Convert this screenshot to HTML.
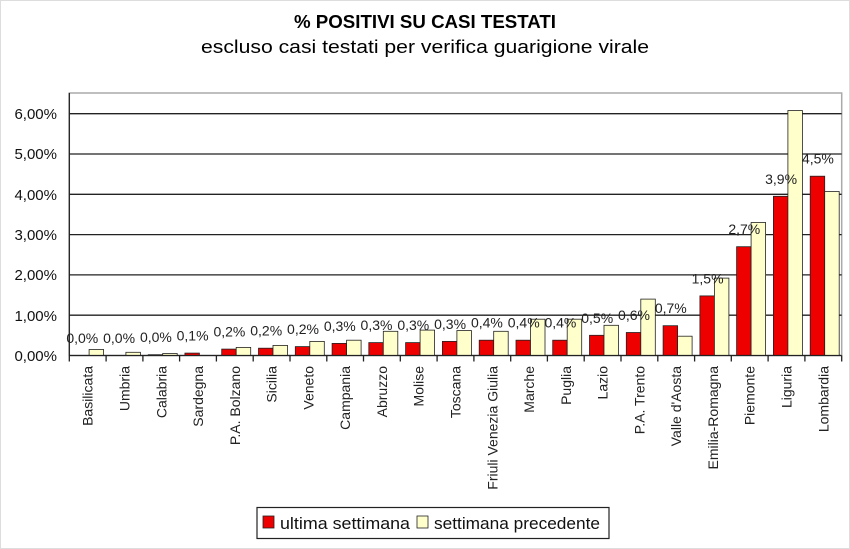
<!DOCTYPE html>
<html><head><meta charset="utf-8"><style>body{margin:0;background:#fff}svg{display:block}</style></head><body>
<svg width="850" height="549" xmlns="http://www.w3.org/2000/svg" font-family="Liberation Sans, sans-serif">
<rect x="0.5" y="0.5" width="849" height="548" fill="#fff" stroke="#ddd"/>
<text x="425" y="28" text-anchor="middle" font-size="18" font-weight="bold" textLength="262" lengthAdjust="spacingAndGlyphs">% POSITIVI SU CASI TESTATI</text>
<text x="425" y="53" text-anchor="middle" font-size="18" textLength="448" lengthAdjust="spacingAndGlyphs">escluso casi testati per verifica guarigione virale</text>
<rect x="69.3" y="93" width="772.4" height="262.5" fill="none" stroke="#aaa" stroke-width="1.5"/>
<g stroke="#222" stroke-width="1.3">
<line x1="69.3" y1="113.7" x2="841.7" y2="113.7"/><line x1="69.3" y1="154" x2="841.7" y2="154"/><line x1="69.3" y1="194.3" x2="841.7" y2="194.3"/><line x1="69.3" y1="234.6" x2="841.7" y2="234.6"/><line x1="69.3" y1="274.9" x2="841.7" y2="274.9"/><line x1="69.3" y1="315.2" x2="841.7" y2="315.2"/>
<line x1="69.3" y1="93" x2="69.3" y2="355.5"/>
</g>
<g font-size="15" text-anchor="end" fill="#111">
<text x="57" y="119">6,00%</text><text x="57" y="159">5,00%</text><text x="57" y="200">4,00%</text><text x="57" y="240">3,00%</text><text x="57" y="280">2,00%</text><text x="57" y="321">1,00%</text><text x="57" y="361">0,00%</text>
</g>
<g stroke="#222" stroke-width="0.8">
<rect x="89.1" y="349.5" width="14.5" height="6" fill="#ffffcc"/>
<rect x="125.9" y="352.3" width="14.5" height="3.2" fill="#ffffcc"/>
<rect x="148.2" y="354.7" width="14.5" height="0.8" fill="#e00"/><rect x="162.7" y="353.5" width="14.5" height="2" fill="#ffffcc"/>
<rect x="184.9" y="353.1" width="14.5" height="2.4" fill="#e00"/>
<rect x="221.7" y="349.1" width="14.5" height="6.4" fill="#e00"/><rect x="236.2" y="347.4" width="14.5" height="8.1" fill="#ffffcc"/>
<rect x="258.5" y="348.2" width="14.5" height="7.3" fill="#e00"/><rect x="273" y="345.4" width="14.5" height="10.1" fill="#ffffcc"/>
<rect x="295.3" y="346.6" width="14.5" height="8.9" fill="#e00"/><rect x="309.8" y="341.4" width="14.5" height="14.1" fill="#ffffcc"/>
<rect x="332.1" y="343.4" width="14.5" height="12.1" fill="#e00"/><rect x="346.6" y="340.2" width="14.5" height="15.3" fill="#ffffcc"/>
<rect x="368.8" y="342.6" width="14.5" height="12.9" fill="#e00"/><rect x="383.3" y="331.3" width="14.5" height="24.2" fill="#ffffcc"/>
<rect x="405.6" y="342.6" width="14.5" height="12.9" fill="#e00"/><rect x="420.1" y="330.1" width="14.5" height="25.4" fill="#ffffcc"/>
<rect x="442.4" y="341.4" width="14.5" height="14.1" fill="#e00"/><rect x="456.9" y="330.5" width="14.5" height="25" fill="#ffffcc"/>
<rect x="479.2" y="340.2" width="14.5" height="15.3" fill="#e00"/><rect x="493.7" y="331.3" width="14.5" height="24.2" fill="#ffffcc"/>
<rect x="516" y="340.2" width="14.5" height="15.3" fill="#e00"/><rect x="530.5" y="319.2" width="14.5" height="36.3" fill="#ffffcc"/>
<rect x="552.7" y="340.2" width="14.5" height="15.3" fill="#e00"/><rect x="567.2" y="319.2" width="14.5" height="36.3" fill="#ffffcc"/>
<rect x="589.5" y="335.3" width="14.5" height="20.2" fill="#e00"/><rect x="604" y="325.3" width="14.5" height="30.2" fill="#ffffcc"/>
<rect x="626.3" y="332.5" width="14.5" height="23" fill="#e00"/><rect x="640.8" y="299.1" width="14.5" height="56.4" fill="#ffffcc"/>
<rect x="663.1" y="325.7" width="14.5" height="29.8" fill="#e00"/><rect x="677.6" y="336.2" width="14.5" height="19.3" fill="#ffffcc"/>
<rect x="699.9" y="295.9" width="14.5" height="59.6" fill="#e00"/><rect x="714.4" y="278.1" width="14.5" height="77.4" fill="#ffffcc"/>
<rect x="736.6" y="246.7" width="14.5" height="108.8" fill="#e00"/><rect x="751.1" y="222.5" width="14.5" height="133" fill="#ffffcc"/>
<rect x="773.4" y="196.3" width="14.5" height="159.2" fill="#e00"/><rect x="787.9" y="110.5" width="14.5" height="245" fill="#ffffcc"/>
<rect x="810.2" y="176.2" width="14.5" height="179.3" fill="#e00"/><rect x="824.7" y="191.5" width="14.5" height="164" fill="#ffffcc"/>
</g>
<g stroke="#222" stroke-width="1.3">
<line x1="69.3" y1="355.5" x2="841.7" y2="355.5"/>
<path d="M69.3 355.5v6M106.1 355.5v6M142.9 355.5v6M179.6 355.5v6M216.4 355.5v6M253.2 355.5v6M290 355.5v6M326.8 355.5v6M363.5 355.5v6M400.3 355.5v6M437.1 355.5v6M473.9 355.5v6M510.7 355.5v6M547.4 355.5v6M584.2 355.5v6M621 355.5v6M657.8 355.5v6M694.6 355.5v6M731.3 355.5v6M768.1 355.5v6M804.9 355.5v6M841.7 355.5v6"/>
</g>
<g font-size="14" text-anchor="middle" fill="#222">
<text x="82.3" y="343">0,0%</text><text x="119.1" y="343">0,0%</text><text x="155.9" y="342">0,0%</text><text x="192.6" y="340.6">0,1%</text>
<text x="229.4" y="336.6">0,2%</text><text x="266.2" y="335.7">0,2%</text><text x="303" y="334.1">0,2%</text><text x="339.8" y="330.9">0,3%</text>
<text x="376.5" y="330.1">0,3%</text><text x="413.3" y="330.1">0,3%</text><text x="450.1" y="328.9">0,3%</text><text x="486.9" y="327.7">0,4%</text>
<text x="523.7" y="327.7">0,4%</text><text x="560.4" y="327.7">0,4%</text><text x="597.2" y="322.8">0,5%</text><text x="634" y="320">0,6%</text>
<text x="670.8" y="313.2">0,7%</text><text x="707.6" y="283.4">1,5%</text><text x="744.3" y="234.2">2,7%</text><text x="781.1" y="183.8">3,9%</text><text x="817.9" y="163.7">4,5%</text>
</g>
<g font-size="14" text-anchor="end" fill="#222">
<text transform="translate(92.7,366) rotate(-90)">Basilicata</text>
<text transform="translate(129.5,366) rotate(-90)">Umbria</text>
<text transform="translate(166.3,366) rotate(-90)">Calabria</text>
<text transform="translate(203,366) rotate(-90)">Sardegna</text>
<text transform="translate(239.8,366) rotate(-90)">P.A. Bolzano</text>
<text transform="translate(276.6,366) rotate(-90)">Sicilia</text>
<text transform="translate(313.4,366) rotate(-90)">Veneto</text>
<text transform="translate(350.2,366) rotate(-90)">Campania</text>
<text transform="translate(386.9,366) rotate(-90)">Abruzzo</text>
<text transform="translate(423.7,366) rotate(-90)">Molise</text>
<text transform="translate(460.5,366) rotate(-90)">Toscana</text>
<text transform="translate(497.3,366) rotate(-90)">Friuli Venezia Giulia</text>
<text transform="translate(534.1,366) rotate(-90)">Marche</text>
<text transform="translate(570.8,366) rotate(-90)">Puglia</text>
<text transform="translate(607.6,366) rotate(-90)">Lazio</text>
<text transform="translate(644.4,366) rotate(-90)">P.A. Trento</text>
<text transform="translate(681.2,366) rotate(-90)">Valle d'Aosta</text>
<text transform="translate(718,366) rotate(-90)">Emilia-Romagna</text>
<text transform="translate(754.7,366) rotate(-90)">Piemonte</text>
<text transform="translate(791.5,366) rotate(-90)">Liguria</text>
<text transform="translate(828.3,366) rotate(-90)">Lombardia</text>
</g>
<rect x="257" y="507.5" width="352" height="31" fill="#fff" stroke="#222" stroke-width="1.2"/>
<rect x="263" y="516" width="11" height="12" fill="#e00" stroke="#222" stroke-width="0.8"/>
<text x="280" y="529" font-size="17" fill="#111" textLength="130" lengthAdjust="spacingAndGlyphs">ultima settimana</text>
<rect x="417" y="516" width="11" height="12" fill="#ffffcc" stroke="#222" stroke-width="0.8"/>
<text x="434" y="529" font-size="17" fill="#111" textLength="166" lengthAdjust="spacingAndGlyphs">settimana precedente</text>
</svg>
</body></html>
